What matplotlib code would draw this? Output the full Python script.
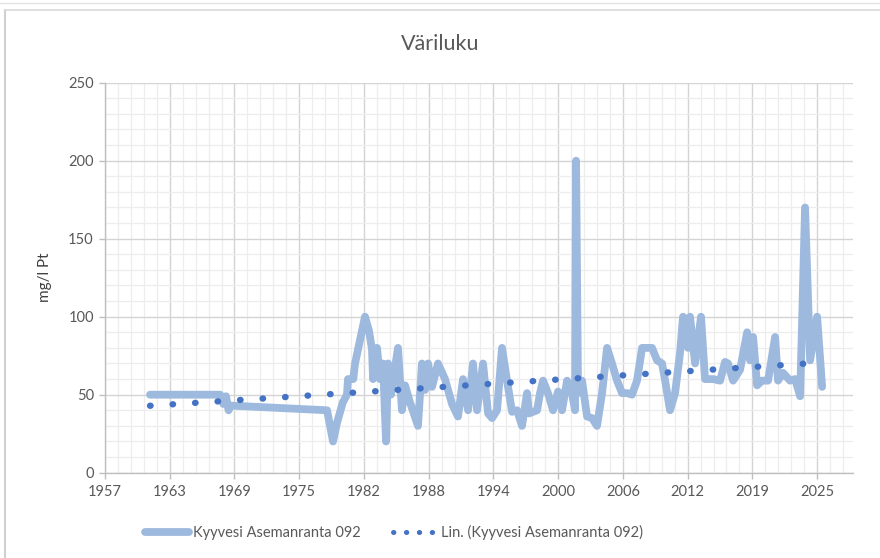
import matplotlib
matplotlib.use('Agg')
import matplotlib.pyplot as plt
from matplotlib.ticker import MultipleLocator, FixedLocator
from matplotlib.lines import Line2D

plt.rcParams['font.family'] = ['Lato', 'DejaVu Sans']

title = "Väriluku"
ylabel = "mg/l Pt"
series_name = "Kyyvesi Asemanranta 092"
trend_name = "Lin. (Kyyvesi Asemanranta 092)"

years = [1961.5, 1968.2, 1968.5, 1968.75, 1969.0, 1969.2, 1978.4, 1978.97, 1979.35,
         1979.9, 1980.3, 1980.4, 1980.9, 1981.07, 1982.02, 1982.4, 1982.69, 1982.79,
         1983.17, 1983.45, 1983.74, 1984.03, 1984.22, 1984.5, 1985.17, 1985.55, 1985.84,
         1986.32, 1987.08, 1987.46, 1987.75, 1988.04, 1988.42, 1988.99, 1989.66, 1990.33,
         1990.9, 1991.38, 1991.86, 1992.33, 1992.72, 1993.29, 1993.77, 1994.15, 1994.63,
         1995.1, 1995.58, 1996.06, 1996.54, 1997.01, 1997.49, 1997.68, 1998.45, 1998.73,
         1999.02, 1999.49, 1999.97, 2000.45, 2000.83, 2001.31, 2001.78, 2002.07, 2002.17,
         2002.36, 2002.74, 2003.22, 2003.69, 2004.17, 2004.65, 2005.13, 2005.6, 2006.08,
         2006.56, 2007.04, 2007.51, 2007.99, 2008.47, 2009.42, 2009.9, 2010.38, 2010.67,
         2011.14, 2011.62, 2012.1, 2012.38, 2012.86, 2013.05, 2013.53, 2014.1, 2014.48,
         2015.25, 2015.92, 2016.39, 2016.68, 2017.16, 2017.83, 2018.5, 2018.78, 2019.07,
         2019.45, 2019.93, 2020.5, 2021.17, 2021.45, 2021.93, 2022.6, 2023.08, 2023.56,
         2024.03, 2024.51, 2025.18, 2025.66]
values = [50, 50, 44, 49, 40, 43, 40, 20, 32,
          45, 50, 60, 60, 70, 100, 91, 79, 60,
          80, 60, 70, 20, 70, 50, 80, 40, 56,
          45, 30, 70, 53, 70, 55, 70, 60, 44,
          36, 60, 40, 70, 40, 70, 38, 35, 40,
          80, 59, 39, 40, 30, 51, 38, 40, 51,
          59, 51, 40, 52, 40, 59, 51, 40, 200,
          51, 59, 36, 35, 30, 51, 80, 70, 59,
          51, 51, 50, 59, 80, 80, 72, 70, 59,
          40, 51, 77, 100, 80, 100, 70, 100, 60,
          60, 59, 71, 70, 59, 66, 90, 72, 87,
          56, 59, 59, 87, 59, 64, 59, 60, 49,
          170, 72, 100, 55]

trend_years = [1961.5, 2025.66]
trend_values = [42.9, 70.6]

tick_labels = ['1957', '1963', '1969', '1975', '1982', '1988', '1994',
               '2000', '2006', '2012', '2019', '2025']
tick_start = 1957.2
tick_step = 6.18
x_right = 2028.58

line_color = '#9DB9DE'
trend_color = '#4472C4'
text_color = '#595959'

fig = plt.figure(figsize=(8.8, 5.58), dpi=100)
ax = fig.add_axes([0.1193, 0.1529, 0.969 - 0.1193, 0.8518 - 0.1529])

ax.plot(years, values, color=line_color, lw=5.6, solid_joinstyle='round',
        solid_capstyle='round', zorder=3)
ax.plot(trend_years, trend_values, color=trend_color, lw=4.6,
        linestyle=(0, (0.08, 3.45)), dash_capstyle='round', zorder=4)

major_x = [tick_start + k * tick_step for k in range(len(tick_labels))]
minor_x = [tick_start + k * tick_step / 5 for k in range(int((x_right - tick_start) / (tick_step / 5)) + 1)]
ax.set_xlim(tick_start, x_right)
ax.set_ylim(0, 250)
ax.xaxis.set_major_locator(FixedLocator(major_x))
ax.set_xticklabels(tick_labels)
ax.xaxis.set_minor_locator(FixedLocator(minor_x))
ax.yaxis.set_major_locator(MultipleLocator(50))
ax.yaxis.set_minor_locator(MultipleLocator(10))

ax.grid(which='major', color='#D4D4D4', lw=1.0, zorder=0)
ax.grid(which='minor', color='#EDEDED', lw=0.9, zorder=0)
ax.set_axisbelow(True)

for s in ['top', 'right']:
    ax.spines[s].set_visible(False)
for s in ['left', 'bottom']:
    ax.spines[s].set_color('#BFBFBF')
    ax.spines[s].set_linewidth(1.0)

ax.tick_params(axis='both', which='major', colors='#BFBFBF', length=4, width=1,
               labelcolor=text_color, labelsize=10.5)
ax.tick_params(axis='both', which='minor', length=0)
ax.tick_params(axis='x', pad=5)
ax.tick_params(axis='y', pad=4)

ax.set_ylabel(ylabel, fontsize=11, color='#404040', labelpad=12)
fig.text(0.5, 0.921, title, ha='center', va='center', fontsize=15.5, color=text_color)

h1 = Line2D([], [], color=line_color, lw=5.6, solid_capstyle='round')
h2 = Line2D([], [], color=trend_color, lw=3.6, linestyle=(0, (0.08, 2.5)),
            dash_capstyle='round')
leg = fig.legend([h1, h2], [series_name, trend_name], loc='center',
                 bbox_to_anchor=(0.448, 0.045), ncol=2, frameon=False,
                 fontsize=10.5, handlelength=3.0, handletextpad=0.3,
                 columnspacing=2.2)
for t in leg.get_texts():
    t.set_color(text_color)

# window frame
fig.add_artist(Line2D([5 / 880, 5 / 880], [0, 1 - 10 / 558], color='#D0D0D0', lw=1.5,
                      transform=fig.transFigure))
fig.add_artist(Line2D([5 / 880, 1], [1 - 10 / 558, 1 - 10 / 558], color='#D9D9D9', lw=1.2,
                      transform=fig.transFigure))
fig.add_artist(Line2D([0, 1], [1 - 3 / 558, 1 - 3 / 558], color='#E3E3E3', lw=1.0,
                      transform=fig.transFigure))

fig.savefig('out.png', dpi=100)
